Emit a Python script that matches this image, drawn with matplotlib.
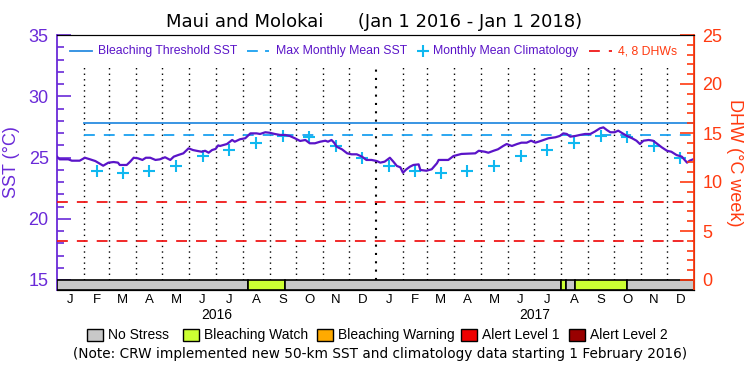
import matplotlib
matplotlib.use("Agg")
import matplotlib.pyplot as plt
import numpy as np
from matplotlib.lines import Line2D
from matplotlib.patches import Rectangle

plt.rcParams['font.family'] = ['Liberation Sans', 'DejaVu Sans']

# SST series, days since Jan 1 2016
sst_day = [0, 3, 13, 17, 26, 32, 38, 44, 47, 53, 59, 65, 70, 72, 80, 84, 88, 93, 98, 102,
           107, 113, 118, 124, 130, 134, 139, 145, 151, 156, 160, 166, 170, 174, 178, 182,
           185, 187, 195, 201, 204, 210, 216, 220, 222, 229, 233, 239, 244, 250, 256, 262,
           267, 273, 279, 285, 290, 296, 302, 308, 311, 315, 318, 321, 327, 333, 338, 344,
           350, 355, 361, 367, 371, 376, 382, 386, 390, 394, 397, 401, 405, 409, 415, 417,
           424, 430, 436, 438, 449, 455, 464, 480, 484, 491, 495, 501, 506, 512, 516, 522,
           528, 533, 539, 544, 549, 556, 564, 572, 577, 581, 585, 589, 595, 600, 606, 612,
           617, 623, 627, 631, 635, 640, 644, 649, 654, 660, 665, 669, 673, 679, 684, 688,
           694, 700, 705, 711, 717, 723, 726, 730]
sst = [25.07, 24.85, 24.85, 24.74, 24.74, 24.98, 24.85, 24.71, 24.58, 24.33, 24.58, 24.63,
       24.58, 24.39, 24.39, 24.66, 24.98, 24.93, 24.80, 24.98, 24.98, 24.80, 24.85, 25.02,
       24.80, 25.07, 25.20, 25.34, 25.75, 25.61, 25.55, 25.47, 25.55, 25.39, 25.61, 25.70,
       25.99, 25.94, 26.10, 26.43, 26.29, 26.49, 26.57, 26.84, 26.97, 26.97, 26.92, 27.06,
       27.02, 26.92, 26.84, 26.84, 26.76, 26.57, 26.35, 26.43, 26.16, 26.16, 26.29, 26.37,
       26.29, 26.43, 26.21, 25.88, 25.67, 25.34, 25.26, 25.26, 25.07, 24.80, 24.80, 24.71,
       24.58, 24.66, 24.98, 24.66, 24.31, 24.20, 23.76, 24.04, 24.25, 24.39, 24.44, 23.98,
       23.92, 24.04, 24.53, 24.80, 24.80, 25.12, 25.29, 25.34, 25.55, 25.47, 25.39, 25.55,
       25.67, 25.94, 26.10, 25.94, 26.10, 26.21, 26.21, 26.37, 26.21, 26.37, 26.57, 26.65,
       26.76, 26.97, 26.92, 26.70, 26.76, 26.84, 26.92, 26.92, 27.11, 27.38, 27.46, 27.24,
       27.06, 27.06, 27.19, 26.97, 26.76, 26.57, 26.37, 26.10, 26.37, 26.43, 26.37, 26.16,
       25.83, 25.55, 25.47, 25.20, 25.07, 24.58, 24.74, 24.85]

# monthly mean climatology, Jan..Dec
clim = [24.30, 23.92, 23.76, 23.92, 24.33, 25.15, 25.61, 26.16, 26.76, 26.70, 25.96, 24.93]
mmm = 26.8
threshold = 27.8
dhw_levels = [4, 8]

stress_start = [0, 219, 262, 578, 584, 595, 654]
stress_level = [0, 1, 0, 1, 0, 1, 0]
levels = ['No Stress', 'Bleaching Watch', 'Bleaching Warning', 'Alert Level 1', 'Alert Level 2']
level_colors = ['#c8c8c8', '#ccff33', '#ffaa00', '#ee0000', '#990000']

month_names = ['J', 'F', 'M', 'A', 'M', 'J', 'J', 'A', 'S', 'O', 'N', 'D'] * 2
years = ['2016', '2017']

purple = '#5a14c8'
axis_purple = '#6a2ad8'
orange = '#ff3a10'
blue = '#2a8ce0'
cyan = '#10b8f0'
wide = ['DejaVu Sans']

t0 = np.datetime64('2016-01-01')
months = np.arange(np.datetime64('2016-01'), np.datetime64('2018-02'), dtype='datetime64[M]')
mdays = (months.astype('datetime64[D]') - t0).astype(int)
total = mdays[-1]
mcent = (mdays[:-1] + mdays[1:]) / 2

fig = plt.figure(figsize=(7.5, 3.75), dpi=100)
ax = fig.add_axes([57 / 750, 1 - 290 / 375, 637 / 750, 255 / 375])
ax.set_xlim(0, total)
ax.set_ylim(15 - 10 / 12.25, 35)

# month separators
for d in mdays[1:-1]:
    lw = 1.5 if d == 366 else 1.0
    ax.plot([d, d], [15, 32.4], color='black', ls=(0, (1, 3)), lw=lw, zorder=1)

ax.plot([31, total], [threshold, threshold], color=blue, lw=1.3, zorder=2)
ax.plot([31, total], [mmm, mmm], color='#1aa0f0', lw=1.3, ls=(0, (6, 5)), zorder=2)
ax.plot(mcent[1:], [clim[i % 12] for i in range(1, 24)], ls='none', marker='+',
        ms=9, mew=1.5, color=cyan, zorder=3)
ax.plot(sst_day, sst, color=purple, lw=1.6, zorder=4)

# stress bar
ends = stress_start[1:] + [total]
for s, e, lv in zip(stress_start, ends, stress_level):
    ax.add_patch(Rectangle((s, 15 - 10 / 12.25), e - s, 10 / 12.25, facecolor=level_colors[lv],
                           edgecolor='black', lw=1.2, zorder=5))

ax.set_yticks([15, 20, 25, 30, 35])
ax.set_yticks(np.arange(15, 36, 1), minor=True)
ax.tick_params(axis='y', which='major', direction='in', length=10, width=1.2,
               color=axis_purple, labelcolor=axis_purple, labelsize=13, pad=6)
ax.tick_params(axis='y', which='minor', direction='in', length=5, width=1.2, color=axis_purple)
ax.set_xticks(mcent)
ax.set_xticklabels(month_names, fontsize=9.5)
ax.tick_params(axis='x', length=0, pad=3)
ax.spines['left'].set_color(axis_purple)
ax.spines['left'].set_linewidth(1.3)
ax.set_ylabel('SST (°C)', color=axis_purple, fontsize=13, labelpad=6)

ax2 = ax.twinx()
ax2.set_ylim(-10 / 9.8, 25)
for lv in dhw_levels:
    ax2.plot([0, total], [lv, lv], color='#f01818', lw=1.3, ls=(0, (6, 5)))
ax2.set_yticks([0, 5, 10, 15, 20, 25])
ax2.set_yticks(np.arange(0, 26, 1), minor=True)
ax2.tick_params(axis='y', which='major', direction='in', length=10, width=1.2,
                color=orange, labelcolor=orange, labelsize=13, pad=6)
ax2.tick_params(axis='y', which='minor', direction='in', length=5, width=1.2, color=orange)
ax2.spines['right'].set_color(orange)
ax2.spines['right'].set_linewidth(1.3)
ax2.spines['left'].set_visible(False)
ax2.set_ylabel('DHW (°C week)', color=orange, fontsize=13, rotation=270, labelpad=15)

for i, yr in enumerate(years):
    xc = (mdays[12 * i] + mdays[12 * i + 12]) / 2
    fig.text(ax.transData.transform((xc, 20))[0] / 750, 1 - 315 / 375, yr,
             ha='center', va='center', fontsize=10)

fig.text(374 / 750, 1 - 22 / 375, 'Maui and Molokai      (Jan 1 2016 - Jan 1 2018)',
         ha='center', va='center', fontsize=13, family=wide)

# top legend
ly = 1 - 51 / 375
def fline(x1, x2, **kw):
    fig.add_artist(Line2D([x1 / 750, x2 / 750], [ly, ly], transform=fig.transFigure, **kw))
fs = 8.8
fline(70, 92, color=blue, lw=1.3)
fig.text(98 / 750, ly, 'Bleaching Threshold SST', color=purple, fontsize=fs, va='center')
fline(247, 269, color='#1aa0f0', lw=1.3, ls=(0, (6, 4)))
fig.text(276 / 750, ly, 'Max Monthly Mean SST', color=purple, fontsize=fs, va='center')
fig.add_artist(Line2D([423 / 750], [ly], transform=fig.transFigure, marker='+', ms=8, mew=1.5,
                      color=cyan, ls='none'))
fig.text(433 / 750, ly, 'Monthly Mean Climatology', color=purple, fontsize=fs, va='center')
fline(589, 612, color='#f01818', lw=1.3, ls=(0, (6, 5)))
fig.text(618 / 750, ly, '4, 8 DHWs', color=orange, fontsize=fs, va='center')

# bottom legend
by = 1 - 335 / 375
box_left = [87, 183, 317, 461, 569]
for bx, name, c in zip(box_left, levels, level_colors):
    fig.add_artist(Rectangle((bx / 750, by - 6 / 375), 16 / 750, 12 / 375, transform=fig.transFigure,
                             facecolor=c, edgecolor='black', lw=1))
    fig.text((bx + 21) / 750, by, name, fontsize=10, va='center')

fig.text(380 / 750, 1 - 354 / 375,
         '(Note: CRW implemented new 50-km SST and climatology data starting 1 February 2016)',
         ha='center', va='center', fontsize=9.8, family=wide)

fig.savefig('out.png', dpi=100)
